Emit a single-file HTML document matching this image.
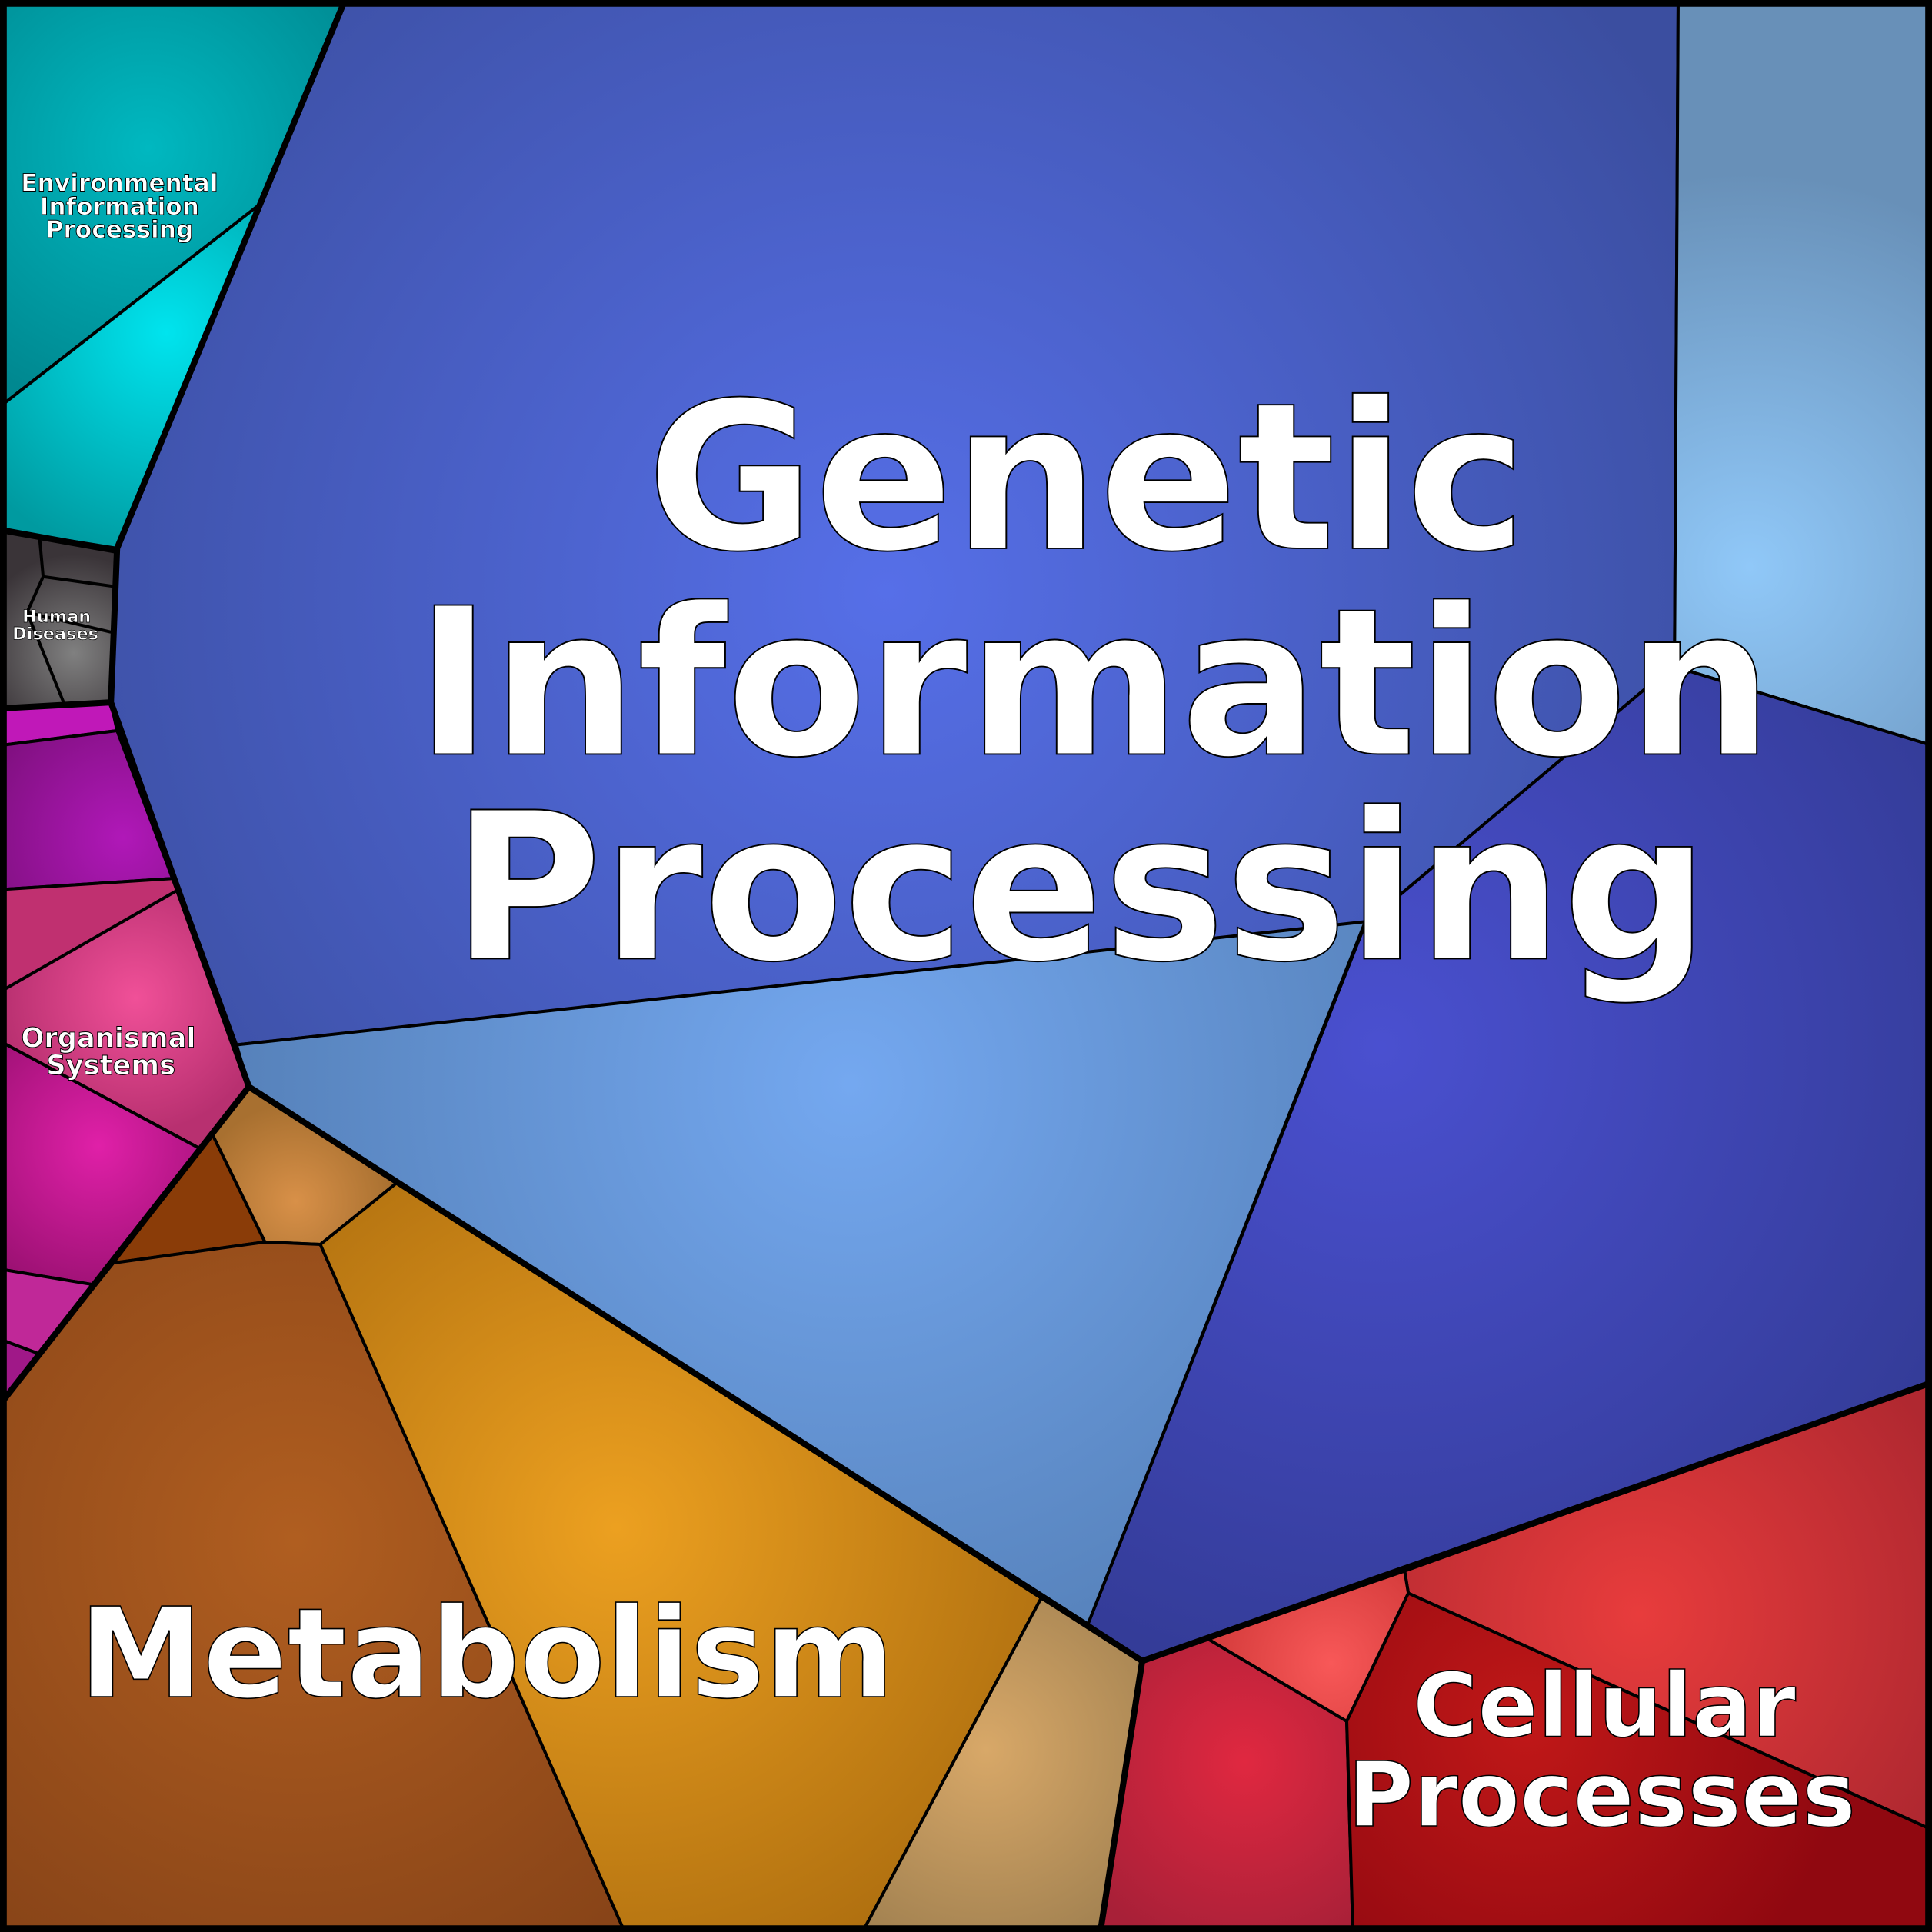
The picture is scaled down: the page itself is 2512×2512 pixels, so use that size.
<!DOCTYPE html>
<html><head><meta charset="utf-8"><style>
html,body{margin:0;padding:0;background:#000;}
svg{display:block;}
text{font-family:"DejaVu Sans","Liberation Sans",sans-serif;font-weight:bold;fill:#fff;stroke:#000;text-anchor:middle;}
</style></head><body>
<svg width="2512" height="2512" viewBox="0 0 1568 1568" xmlns="http://www.w3.org/2000/svg">
<defs>
<radialGradient id="gMain" gradientUnits="userSpaceOnUse" cx="720" cy="480" r="750"><stop offset="0" stop-color="#566fe8"/><stop offset="1" stop-color="#3b4ea0"/></radialGradient>
<radialGradient id="gLB" gradientUnits="userSpaceOnUse" cx="690" cy="880" r="520"><stop offset="0" stop-color="#74a8f0"/><stop offset="1" stop-color="#5580b8"/></radialGradient>
<radialGradient id="gTR" gradientUnits="userSpaceOnUse" cx="1420" cy="460" r="320"><stop offset="0" stop-color="#90c8f8"/><stop offset="1" stop-color="#6890b8"/></radialGradient>
<radialGradient id="gDB" gradientUnits="userSpaceOnUse" cx="1120" cy="850" r="520"><stop offset="0" stop-color="#4a50d0"/><stop offset="1" stop-color="#343c98"/></radialGradient>
<radialGradient id="gEnvA" gradientUnits="userSpaceOnUse" cx="120" cy="120" r="220"><stop offset="0" stop-color="#00b8c0"/><stop offset="1" stop-color="#008890"/></radialGradient>
<radialGradient id="gEnvB" gradientUnits="userSpaceOnUse" cx="135" cy="270" r="190"><stop offset="0" stop-color="#00e4ee"/><stop offset="1" stop-color="#009aa0"/></radialGradient>
<radialGradient id="gHD" gradientUnits="userSpaceOnUse" cx="60" cy="530" r="80"><stop offset="0" stop-color="#808080"/><stop offset="1" stop-color="#3a3438"/></radialGradient>
<radialGradient id="gPur" gradientUnits="userSpaceOnUse" cx="100" cy="680" r="120"><stop offset="0" stop-color="#b018b8"/><stop offset="1" stop-color="#801080"/></radialGradient>
<radialGradient id="gPink" gradientUnits="userSpaceOnUse" cx="110" cy="810" r="110"><stop offset="0" stop-color="#f05098"/><stop offset="1" stop-color="#b83070"/></radialGradient>
<radialGradient id="gMag" gradientUnits="userSpaceOnUse" cx="80" cy="930" r="130"><stop offset="0" stop-color="#e020a8"/><stop offset="1" stop-color="#981070"/></radialGradient>
<radialGradient id="gBrown" gradientUnits="userSpaceOnUse" cx="240" cy="1250" r="400"><stop offset="0" stop-color="#b05e20"/><stop offset="1" stop-color="#884418"/></radialGradient>
<radialGradient id="gOr" gradientUnits="userSpaceOnUse" cx="500" cy="1240" r="380"><stop offset="0" stop-color="#eca020"/><stop offset="1" stop-color="#b07010"/></radialGradient>
<radialGradient id="gTan" gradientUnits="userSpaceOnUse" cx="800" cy="1420" r="180"><stop offset="0" stop-color="#d8a868"/><stop offset="1" stop-color="#a08050"/></radialGradient>
<radialGradient id="gTan2" gradientUnits="userSpaceOnUse" cx="240" cy="975" r="80"><stop offset="0" stop-color="#d89048"/><stop offset="1" stop-color="#a87030"/></radialGradient>
<radialGradient id="gRed" gradientUnits="userSpaceOnUse" cx="1330" cy="1310" r="280"><stop offset="0" stop-color="#e83c3c"/><stop offset="1" stop-color="#b02830"/></radialGradient>
<radialGradient id="gRed2" gradientUnits="userSpaceOnUse" cx="1080" cy="1350" r="110"><stop offset="0" stop-color="#f85858"/><stop offset="1" stop-color="#d03838"/></radialGradient>
<radialGradient id="gCrim" gradientUnits="userSpaceOnUse" cx="1010" cy="1430" r="160"><stop offset="0" stop-color="#e02840"/><stop offset="1" stop-color="#a82038"/></radialGradient>
<radialGradient id="gDR" gradientUnits="userSpaceOnUse" cx="1240" cy="1400" r="260"><stop offset="0" stop-color="#c01818"/><stop offset="1" stop-color="#900810"/></radialGradient>
</defs>
<g stroke="#000" stroke-width="2.5" stroke-linejoin="round">
<polygon fill="url(#gMain)" points="280,0 1362,0 1359,540 1340,555 1108,750 192,848 90,570 95,445"/>
<polygon fill="url(#gTR)" points="1362,0 1568,0 1568,605 1372,545 1359,540"/>
<polygon fill="url(#gDB)" points="1340,555 1372,545 1568,605 1568,1122 927,1348 883,1318 1108,750"/>
<polygon fill="url(#gLB)" points="192,848 1108,748 883,1318 202,882"/>
<polygon fill="url(#gEnvA)" points="0,0 280,0 212,165 0,330"/>
<polygon fill="url(#gEnvB)" points="0,330 212,165 95,445 0,430"/>
<polygon fill="url(#gHD)" points="0,430 95,447 90,570 0,575"/>
<polyline fill="none" points="32,435 35,468 93,476"/>
<polyline fill="none" points="35,468 22,497 52,571"/>
<polyline fill="none" points="22,497 90,513"/>
<polygon fill="#c018b8" points="0,575 90,570 95,593 0,605"/>
<polygon fill="url(#gPur)" points="0,605 95,593 140,713 0,722"/>
<polygon fill="#c03070" points="0,722 140,713 145,722 0,805"/>
<polygon fill="url(#gPink)" points="0,805 145,722 202,882 162,932 0,845"/>
<polygon fill="url(#gMag)" points="0,845 162,932 78,1043 0,1030"/>
<polygon fill="#c02898" points="0,1030 78,1043 35,1100 0,1087"/>
<polygon fill="#a01888" points="0,1087 35,1100 0,1140"/>
<polygon fill="url(#gTan2)" points="172,920 202,882 322,960 260,1010 215,1008"/>
<polygon fill="#8a3c08" points="172,920 215,1008 92,1025"/>
<polygon fill="url(#gBrown)" points="0,1140 92,1025 215,1008 260,1010 507,1568 0,1568"/>
<polygon fill="url(#gOr)" points="260,1010 322,960 845,1297 700,1568 507,1568"/>
<polygon fill="url(#gTan)" points="845,1297 927,1348 893,1568 700,1568"/>
<polygon fill="url(#gRed)" points="1140,1275 1568,1122 1568,1485 1143,1293"/>
<polygon fill="url(#gRed2)" points="927,1348 1140,1275 1143,1293 1093,1397 980,1330"/>
<polygon fill="url(#gCrim)" points="927,1348 980,1330 1093,1397 1098,1568 893,1568"/>
<polygon fill="url(#gDR)" points="1143,1293 1568,1485 1568,1568 1098,1568 1093,1397"/>
</g>
<g fill="none" stroke="#000" stroke-width="5" stroke-linejoin="round">
<polyline points="280,0 95,445 90,570 202,882 927,1348 1568,1122"/>
<polyline points="0,430 95,447"/>
<polyline points="0,575 90,570"/>
<polyline points="202,882 0,1140"/>
<polyline points="927,1348 893,1568"/>
<rect x="3" y="3" width="1562" height="1562"/>
</g>
<g stroke-width="1.2">
<text font-size="166" x="882" y="445">Genetic</text>
<text font-size="166" x="888" y="612">Information</text>
<text font-size="166" x="877" y="778">Processing</text>
</g>
<g stroke-width="1">
<text font-size="101" x="395" y="1377">Metabolism</text>
<text font-size="72" x="1302" y="1409">Cellular</text>
<text font-size="73" x="1300" y="1482">Processes</text>
</g>
<g stroke-width="0.6">
<text font-size="19.5" x="97" y="155">Environmental</text>
<text font-size="19.5" x="97" y="174">Information</text>
<text font-size="19.5" x="97" y="193">Processing</text>
<text font-size="22" x="88" y="850">Organismal</text>
<text font-size="22" x="90" y="872">Systems</text>
<text font-size="14" x="46" y="505" stroke-width="0.4">Human</text>
<text font-size="14" x="45" y="519" stroke-width="0.4">Diseases</text>
</g>
</svg>
</body></html>
